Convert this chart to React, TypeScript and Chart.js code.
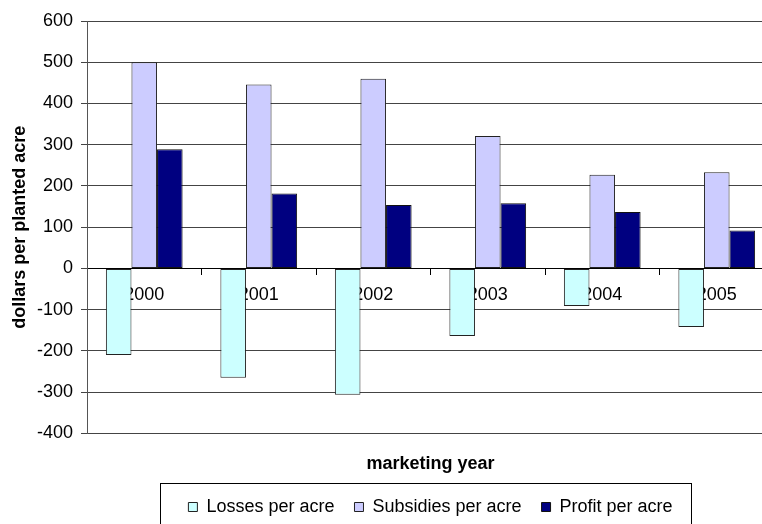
import React, { useEffect, useRef } from 'react';
import { Chart, registerables } from 'chart.js';

Chart.register(...registerables);

const categories = ['2000', '2001', '2002', '2003', '2004', '2005'];
const lossesPerAcre = [-210, -265, -306, -164, -91, -142];
const subsidiesPerAcre = [500, 446, 460, 321, 227, 233];
const profitPerAcre = [289, 182, 154, 158, 137, 92];
const seriesNames = ['Losses per acre', 'Subsidies per acre', 'Profit per acre'];
const yMin = -400;
const yMax = 600;
const yStep = 100;

const FONT = "'Liberation Sans', Arial, Helvetica, sans-serif";

const legendBorder = {
  id: 'legendBorder',
  afterDraw(chart: any) {
    const lg = chart.legend;
    if (!lg || !lg.legendHitBoxes || !lg.legendHitBoxes.length) return;
    const hb = lg.legendHitBoxes;
    const first = hb[0];
    const last = hb[hb.length - 1];
    const left = Math.round(first.left - 28) + 0.5;
    const right = Math.round(last.left + last.width + 18) + 0.5;
    const top = Math.round(first.top + first.height / 2 - 24) + 0.5;
    const ctx = chart.ctx;
    ctx.save();
    ctx.strokeStyle = '#000';
    ctx.lineWidth = 1;
    ctx.strokeRect(left, top, right - left, 200);
    ctx.restore();
  },
};

export default function App() {
  const ref = useRef<HTMLCanvasElement>(null);

  useEffect(() => {
    if (!ref.current) return;
    const chart = new Chart(ref.current, {
      type: 'bar',
      data: {
        labels: categories,
        datasets: [
          {
            label: seriesNames[0],
            data: lossesPerAcre,
            backgroundColor: '#CCFFFF',
            borderColor: '#222',
            borderWidth: 1,
            borderSkipped: false,
          },
          {
            label: seriesNames[1],
            data: subsidiesPerAcre,
            backgroundColor: '#CCCCFF',
            borderColor: '#222',
            borderWidth: 1,
            borderSkipped: false,
          },
          {
            label: seriesNames[2],
            data: profitPerAcre,
            backgroundColor: '#000080',
            borderColor: '#111',
            borderWidth: 1,
            borderSkipped: false,
          },
        ],
      },
      options: {
        responsive: false,
        animation: false,
        layout: { padding: { left: 0, right: 2, top: 21, bottom: 14 } },
        datasets: { bar: { categoryPercentage: 0.67, barPercentage: 1 } },
        scales: {
          x: {
            position: { y: 0 },
            z: 1,
            grid: {
              drawOnChartArea: false,
              drawTicks: true,
              tickLength: 6,
              offset: true,
              color: '#000',
            },
            border: { display: true, color: '#000', width: 1 },
            ticks: {
              color: '#000',
              font: { family: FONT, size: 18 },
              padding: 9.5,
              maxRotation: 0,
              autoSkip: false,
            },
            title: { display: false },
          },
          y: {
            min: yMin,
            max: yMax,
            ticks: {
              stepSize: yStep,
              color: '#000',
              font: { family: FONT, size: 18 },
              padding: 8,
            },
            grid: { color: '#444', tickLength: 6, drawTicks: true },
            border: { color: '#555' },
            title: {
              display: true,
              text: 'dollars per planted acre',
              color: '#000',
              font: { family: FONT, size: 18, weight: 'bold' },
              padding: { top: 9, bottom: 0 },
            },
            afterFit: (s: any) => {
              s.width = 87;
            },
          },
        },
        plugins: {
          title: {
            display: true,
            text: 'marketing year',
            position: 'bottom',
            fullSize: false,
            weight: 500,
            color: '#000',
            font: { family: FONT, size: 18, weight: 'bold' },
            padding: { top: 20, bottom: 3 },
          },
          legend: {
            position: 'bottom',
            fullSize: false,
            labels: {
              boxWidth: 9,
              boxHeight: 9,
              padding: 20,
              color: '#000',
              font: { family: FONT, size: 18 },
            },
          },
          tooltip: { enabled: false },
        },
      } as any,
      plugins: [legendBorder],
    });
    return () => chart.destroy();
  }, []);

  return (
    <div
      style={{
        position: 'fixed',
        left: 0,
        top: 0,
        width: 762,
        height: 524,
        overflow: 'hidden',
        background: '#fff',
      }}
    >
      <canvas ref={ref} width={776} height={540} style={{ display: 'block' }} />
    </div>
  );
}
